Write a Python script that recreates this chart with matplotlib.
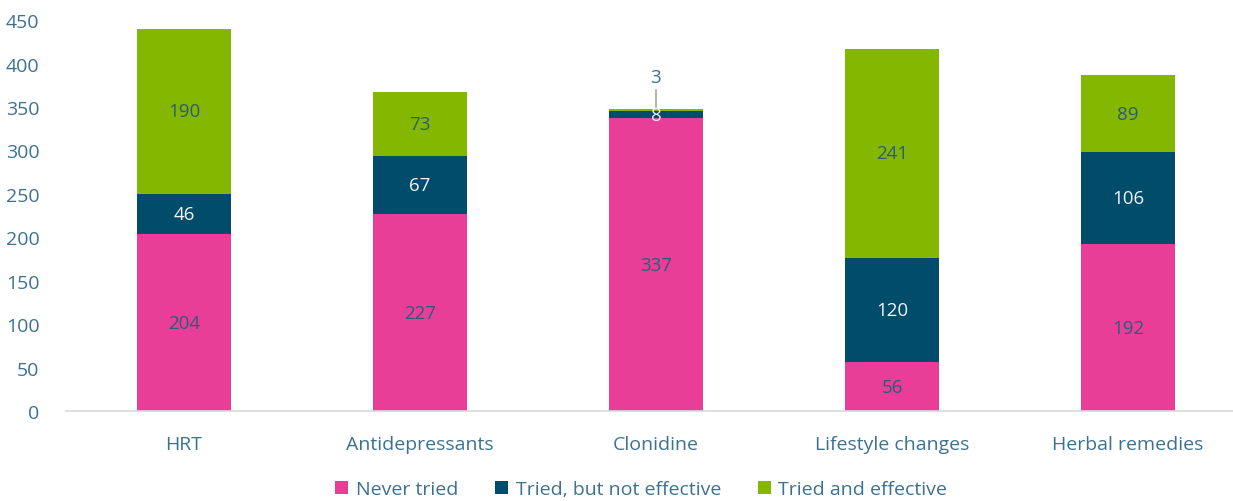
import matplotlib

matplotlib.use("Agg")
import matplotlib.pyplot as plt
import numpy as np

categories = ["HRT", "Antidepressants", "Clonidine", "Lifestyle changes", "Herbal remedies"]
never_tried = [204, 227, 337, 56, 192]
tried_not_effective = [46, 67, 8, 120, 106]
tried_effective = [190, 73, 3, 241, 89]

series = [
    ("Never tried", never_tried, "#E83E97", "#2F5B78"),
    ("Tried, but not effective", tried_not_effective, "#004C6B", "#F2F2F2"),
    ("Tried and effective", tried_effective, "#84B800", "#2F5B78"),
]

plt.rcParams["font.family"] = ["Open Sans", "DejaVu Sans"]
tick_color = "#3D7190"

fig = plt.figure(figsize=(12.33, 5.02), dpi=100)
ax = fig.add_axes([0.0535, 0.179, 0.9465, 0.779])

x = np.arange(len(categories))
bottom = np.zeros(len(categories))
for name, vals, color, txt in series:
    vals = np.array(vals, dtype=float)
    ax.bar(x, vals, width=0.40, bottom=bottom, color=color, label=name, zorder=2)
    for i, v in enumerate(vals):
        if v < 5:
            # too thin for an inside label: put it above with a leader line
            top = bottom[i] + v
            ax.plot([x[i], x[i]], [top + 2, top + 21], color="#A6A6A6", lw=1.2, zorder=3)
            ax.text(x[i], top + 37, f"{int(v)}", ha="center", va="center",
                    fontsize=13.5, color=tick_color)
        else:
            ax.text(x[i], bottom[i] + v / 2, f"{int(v)}", ha="center", va="center",
                    fontsize=13.5, color=txt, zorder=4)
    bottom += vals

ax.set_xlim(-0.5, 4.445)
ax.set_ylim(0, 450)
ax.set_yticks(np.arange(0, 451, 50))
ax.set_xticks(x)
ax.set_xticklabels(categories)
ax.tick_params(axis="both", length=0, labelsize=14, colors=tick_color)
ax.tick_params(axis="x", pad=17)
ax.tick_params(axis="y", pad=19)
for side in ["top", "right", "left"]:
    ax.spines[side].set_visible(False)
ax.spines["bottom"].set_color("#D9D9D9")
ax.spines["bottom"].set_linewidth(1.2)

leg = ax.legend(loc="center", bbox_to_anchor=(0.493, -0.2), ncol=3,
                frameon=False, fontsize=14, handlelength=0.65, handleheight=0.65,
                handletextpad=0.4, columnspacing=1.9)
for t in leg.get_texts():
    t.set_color(tick_color)

fig.savefig("out.png", dpi=100)
